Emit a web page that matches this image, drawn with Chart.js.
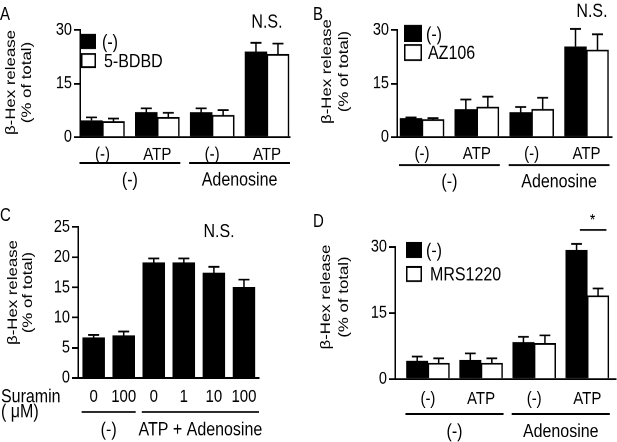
<!DOCTYPE html>
<html>
<head>
<meta charset="utf-8">
<script src="https://cdn.jsdelivr.net/npm/chart.js@4.4.1/dist/chart.umd.min.js"></script>
<style>
  body { margin: 0; background: #fff; }
  #fig { position: relative; width: 617px; height: 442px; font-family: "Liberation Sans", Arial, sans-serif; }
  #fig canvas { position: absolute; left: 0; top: 0; }
  .tag { position: absolute; font-size: 15px; line-height: 15px; color: #000; transform: scaleY(1.2); transform-origin: left top; }
</style>
</head>
<body>
<div id="fig">
  <!-- the source figure is stretched vertically by about 1.2, so are these canvases -->
  <canvas id="chartA" width="617" height="368" style="width:617px;height:442px"></canvas>
  <canvas id="chartB" width="617" height="368" style="width:617px;height:442px"></canvas>
  <canvas id="chartC" width="617" height="368" style="width:617px;height:442px"></canvas>
  <canvas id="chartD" width="617" height="368" style="width:617px;height:442px"></canvas>
  <div class="tag" style="left:0px;top:4px">A</div>
  <div class="tag" style="left:313px;top:4px">B</div>
  <div class="tag" style="left:0px;top:205px">C</div>
  <div class="tag" style="left:313px;top:211px">D</div>
</div>
<script>
const FONT = '"Liberation Sans", Arial, sans-serif';
const W = 617, HC = 368, SY = 442 / HC;

// shared category labels (panels A, B, D)
const innerLabels = ['(-)', 'ATP', '(-)', 'ATP'];
const outerLabels = ['(-)', 'Adenosine'];
const outerSpans = [[0, 1], [2, 3]];
const yTitle = ['β-Hex release', '(% of total)'];

// A : 5-BDBD
const aCtrl = [4.6, 6.9, 6.8, 23.9];
const aCtrlErr = [0.9, 1.1, 1.2, 2.5];
const aBdbd = [4.3, 5.5, 6.1, 23.2];
const aBdbdErr = [0.9, 1.3, 1.4, 3.0];

// B : AZ106
const bCtrl = [5.2, 7.7, 6.8, 25.3];
const bCtrlErr = [0.3, 2.8, 1.6, 5.0];
const bAz = [4.9, 8.4, 7.8, 24.4];
const bAzErr = [0.4, 2.9, 3.2, 4.4];

// C : suramin dose
const suraminDoses = ['0', '100', '0', '1', '10', '100'];
const cOuterLabels = ['(-)', 'ATP + Adenosine'];
const cSpans = [[0, 1], [2, 5]];
const cRelease = [6.7, 7.0, 19.1, 19.1, 17.4, 15.0];
const cErr = [0.45, 0.7, 0.7, 0.7, 1.0, 1.3];

// D : MRS1220
const dCtrl = [4.1, 4.3, 8.3, 29.3];
const dCtrlErr = [1.0, 1.5, 1.3, 1.4];
const dMrs = [3.6, 3.6, 8.1, 18.9];
const dMrsErr = [1.1, 1.1, 1.8, 1.7];

const xy = vals => vals.map((v, i) => ({ x: i, y: v }));

function blackSet(label, vals, err) {
  return { label, data: xy(vals), err, backgroundColor: '#000', borderColor: '#000', borderWidth: 1.5 };
}
function whiteSet(label, vals, err) {
  return { label, data: xy(vals), err, backgroundColor: '#fff', borderColor: '#000', borderWidth: 1.5 };
}

// offsets in the plugin options are given in page pixels, canvas is squeezed by SY
const deco = {
  id: 'deco',
  afterDatasetsDraw(chart, args, o) {
    const ctx = chart.ctx, x = chart.scales.x, y = chart.scales.y, area = chart.chartArea;
    const nSets = chart.data.datasets.length;
    const half = o.barW * nSets / 2;
    const dy = v => v / SY;
    ctx.save();
    ctx.strokeStyle = '#000';
    ctx.fillStyle = '#000';
    ctx.lineWidth = 1.5;

    // error bars (upper only)
    chart.data.datasets.forEach((ds, di) => {
      chart.getDatasetMeta(di).data.forEach((bar, i) => {
        const top = y.getPixelForValue(ds.data[i].y + ds.err[i]);
        const cap = bar.width / 4;
        ctx.beginPath();
        ctx.moveTo(bar.x, bar.y);
        ctx.lineTo(bar.x, top);
        ctx.moveTo(bar.x - cap, top);
        ctx.lineTo(bar.x + cap, top);
        ctx.stroke();
      });
    });

    ctx.textAlign = 'center';
    ctx.textBaseline = 'middle';

    // category labels
    ctx.font = '15px ' + FONT;
    o.inner.forEach((t, i) => ctx.fillText(t, x.getPixelForValue(i), area.bottom + dy(o.innerDy)));

    // group lines and labels
    o.spans.forEach((sp, k) => {
      const x0 = x.getPixelForValue(sp[0]) - half - 1;
      const x1 = Math.min(x.getPixelForValue(sp[1]) + half + (o.lineExtra ? o.lineExtra[k] : 1), area.right);
      ctx.beginPath();
      ctx.moveTo(x0, area.bottom + dy(o.lineDy));
      ctx.lineTo(x1, area.bottom + dy(o.lineDy));
      ctx.stroke();
      ctx.font = '16px ' + FONT;
      ctx.fillText(o.outer[k], (x0 + x1) / 2, area.bottom + dy(o.outerDy));
    });

    // row titles (panel C)
    if (o.rowTitle) {
      ctx.textAlign = 'left';
      ctx.font = '16px ' + FONT;
      o.rowTitle.forEach((t, k) => ctx.fillText(t, 1, area.bottom + dy(o.innerDy + k * 15)));
      ctx.textAlign = 'center';
    }

    // annotations
    (o.notes || []).forEach(n => {
      if (n.line) {
        const py = y.getPixelForValue(n.y);
        ctx.beginPath();
        ctx.moveTo(x.getPixelForValue(n.line[0]), py);
        ctx.lineTo(x.getPixelForValue(n.line[1]), py);
        ctx.stroke();
      } else {
        ctx.font = (n.size || 16) + 'px ' + FONT;
        ctx.fillText(n.text, x.getPixelForValue(n.x), y.getPixelForValue(n.y));
      }
    });

    // legend
    if (o.legend) {
      const L = o.legend;
      ctx.textAlign = 'left';
      ctx.font = '16px ' + FONT;
      chart.data.datasets.forEach((ds, di) => {
        const bx = area.left + L.dx, by = area.top + dy(L.dy + di * L.step), bh = dy(L.bh);
        ctx.fillStyle = ds.backgroundColor;
        ctx.fillRect(bx, by, L.bw, bh);
        ctx.strokeRect(bx + 0.75, by + 0.75, L.bw - 1.5, bh - 1.5);
        ctx.fillStyle = '#000';
        ctx.fillText(ds.label, bx + L.bw + L.gap[di], by + bh / 2 + 1);
      });
    }

    // y axis title
    ctx.textAlign = 'center';
    ctx.font = '14px ' + FONT;
    yTitle.forEach((t, k) => {
      ctx.save();
      ctx.translate(area.left + o.titleDx + k * o.titleStep, (area.top + area.bottom) / 2 + dy(o.titleDy));
      ctx.rotate(-Math.PI / 2);
      ctx.fillText(t, 0, 0);
      ctx.restore();
    });
    ctx.restore();
  }
};

// cfg.area = [left, top, right, bottom] of the plot box in page pixels
function panel(id, cfg) {
  return new Chart(document.getElementById(id), {
    type: 'bar',
    data: { datasets: cfg.datasets },
    options: {
      responsive: false,
      animation: false,
      devicePixelRatio: 2,
      events: [],
      barThickness: cfg.barW,
      layout: {
        padding: {
          left: cfg.area[0] - cfg.axisW,
          top: cfg.area[1] / SY,
          right: W - cfg.area[2],
          bottom: HC - cfg.area[3] / SY
        }
      },
      scales: {
        x: {
          type: 'linear', min: cfg.xRange[0], max: cfg.xRange[1], offset: false,
          grid: { display: false },
          ticks: { display: false },
          border: { color: '#000', width: 1.5 },
          afterFit: s => { s.height = 0; }
        },
        y: {
          min: 0, max: cfg.yMax,
          ticks: { stepSize: cfg.yStep, color: '#000', padding: 2, font: { family: FONT, size: 14.5 } },
          grid: { drawOnChartArea: false, color: '#000', lineWidth: 1.5, tickLength: 6 },
          border: { color: '#000', width: 1.5 },
          afterFit: s => { s.width = cfg.axisW; }
        }
      },
      plugins: {
        legend: { display: false },
        tooltip: { enabled: false },
        deco: Object.assign({ barW: cfg.barW }, cfg.deco)
      }
    },
    plugins: [deco]
  });
}

panel('chartA', {
  datasets: [blackSet('(-)', aCtrl, aCtrlErr), whiteSet('5-BDBD', aBdbd, aBdbdErr)],
  area: [80, 30, 290, 137], axisW: 79, xRange: [-0.41, 3.42], barW: 22, yMax: 30, yStep: 15,
  deco: {
    inner: innerLabels, innerDy: 18, spans: outerSpans, outer: outerLabels, lineDy: 26, outerDy: 43,
    notes: [{ text: 'N.S.', x: 3, y: 32.2 }],
    legend: { dx: 1, dy: 4, step: 19, bw: 15, bh: 15, gap: [6, 8] },
    titleDx: -69, titleStep: 16, titleDy: -1
  }
});

panel('chartB', {
  datasets: [blackSet('(-)', bCtrl, bCtrlErr), whiteSet('AZ106', bAz, bAzErr)],
  area: [397, 30, 612, 137], axisW: 80, xRange: [-0.456, 3.465], barW: 22, yMax: 30, yStep: 15,
  deco: {
    inner: innerLabels, innerDy: 17, spans: outerSpans, outer: outerLabels, lineDy: 28, outerDy: 45,
    notes: [{ text: 'N.S.', x: 3.1, y: 35.1 }],
    legend: { dx: 7, dy: -5, step: 19, bw: 18, bh: 17, gap: [4, 6] },
    titleDx: -70, titleStep: 17, titleDy: -12
  }
});

panel('chartC', {
  datasets: [{ label: 'release', data: xy(cRelease), err: cErr, backgroundColor: '#000', borderColor: '#000', borderWidth: 1.5 }],
  area: [78, 227, 259, 378], axisW: 76, xRange: [-0.52, 5.5], barW: 22, yMax: 25, yStep: 5,
  deco: {
    inner: suraminDoses, innerDy: 19, spans: cSpans, outer: cOuterLabels, lineDy: 34, outerDy: 52,
    lineExtra: [1, 5],
    rowTitle: ['Suramin', '( μM)'],
    notes: [{ text: 'N.S.', x: 4.17, y: 24.2 }],
    titleDx: -65, titleStep: 15, titleDy: -10
  }
});

panel('chartD', {
  datasets: [blackSet('(-)', dCtrl, dCtrlErr), whiteSet('MRS1220', dMrs, dMrsErr)],
  area: [395, 247, 616, 379], axisW: 80, xRange: [-0.62, 3.54], barW: 21.5, yMax: 30, yStep: 15,
  deco: {
    inner: innerLabels, innerDy: 20, spans: outerSpans, outer: outerLabels, lineDy: 35, outerDy: 53,
    notes: [{ line: [2.86, 3.36], y: 33.9 }, { text: '*', x: 3.1, y: 36.0, size: 14 }],
    legend: { dx: 11, dy: -5, step: 24, bw: 16, bh: 16, gap: [4, 8] },
    titleDx: -69, titleStep: 18, titleDy: -16
  }
});
</script>
</body>
</html>
